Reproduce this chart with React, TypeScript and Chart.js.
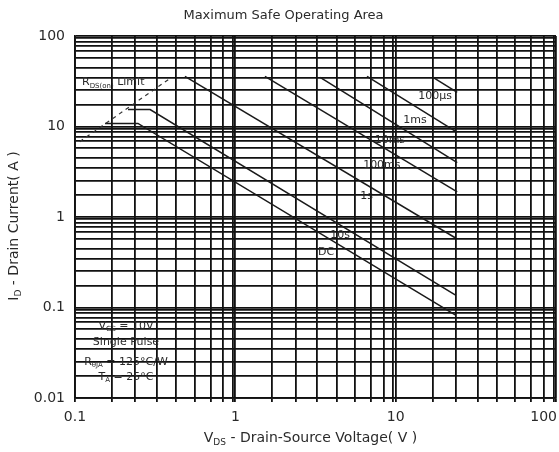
import React, { useEffect, useRef } from 'react';
import { Chart, registerables } from 'chart.js';

Chart.register(...registerables);

const FONT = '"DejaVu Sans", sans-serif';
const TEXT_COLOR = '#2a2a2a';
const GRID_COLOR = '#111111';
const LINE_COLOR = '#1a1a1a';

// ---- Text ----
const chartTitle = 'Maximum Safe Operating Area';

// ---- Axes ----
const xTickValues = [0.1, 1, 10, 100];
const xTickLabels = ['0.1', '1', '10', '100'];
const yTickValues = [0.01, 0.1, 1, 10, 100];
const yTickLabels = ['0.01', '0.1', '1', '10', '100'];
// gridline multipliers inside each decade
const xGridSteps = [1.7, 2.37, 3.24, 4.27, 5.56, 7.0, 8.41, 9.66];
const yGridSteps = [1.74, 2.51, 3.47, 4.47, 5.75, 6.92, 7.76, 8.61, 9.44];

// ---- Series (V_DS in volts, I_D in amps) ----
const rdsLimitV = [0.107, 0.4];
const rdsLimitI = [6.8, 34.9];
const pulse100usV = [17.1, 24.2];
const pulse100usI = [34.9, 23.8];
const pulse1msV = [6.63, 24.2];
const pulse1msI = [35.8, 8.6];
const pulse10msV = [3.38, 24.2];
const pulse10msI = [34.9, 4.0];
const pulse100msV = [1.53, 24.2];
const pulse100msI = [35.8, 1.9];
const pulse1sV = [0.485, 23.5];
const pulse1sI = [35.8, 0.59];
const pulse10sV = [0.214, 0.294, 23.5];
const pulse10sI = [15.4, 15.4, 0.138];
const dcV = [0.154, 0.247, 23.5];
const dcI = [10.8, 10.8, 0.083];

// ---- Curve labels ----
const curveNames = ['100µs', '1ms', '10ms', '100ms', '1s', '10s', 'DC'];
const curveLabelV = [17.6, 13.2, 9.2, 8.2, 6.6, 4.5, 3.68];
const curveLabelI = [21.5, 11.7, 7.0, 3.7, 1.68, 0.637, 0.413];

type Part = { t: string; sub?: boolean };

const rdsLabel: Part[] = [{ t: 'R' }, { t: 'DS(on)', sub: true }, { t: ' Limit' }];
const rdsLabelV = 0.1106;
const rdsLabelI = 30.7;

const conditionLines: Part[][] = [
  [{ t: 'V' }, { t: 'GS', sub: true }, { t: ' = 10V' }],
  [{ t: 'Single Pulse' }],
  [{ t: 'R' }, { t: 'θJA', sub: true }, { t: ' = 125°C/W' }],
  [{ t: 'T' }, { t: 'A', sub: true }, { t: ' = 25°C' }],
];
const conditionV = 0.208;
const conditionI = [0.0625, 0.0416, 0.025, 0.017];

const xTitle: Part[] = [{ t: 'V' }, { t: 'DS', sub: true }, { t: ' - Drain-Source Voltage( V )' }];
const yTitle: Part[] = [{ t: 'I' }, { t: 'D', sub: true }, { t: ' - Drain Current( A )' }];

function pts(v: number[], i: number[]) {
  return v.map((x, k) => ({ x, y: i[k] }));
}

function gridValues(decades: number[], steps: number[]) {
  const out: number[] = [];
  for (let k = 0; k < decades.length - 1; k++) {
    out.push(decades[k]);
    steps.forEach((m) => out.push(decades[k] * m));
  }
  out.push(decades[decades.length - 1]);
  return out;
}

function labelFor(values: number[], labels: string[], v: number) {
  const i = values.findIndex((t) => Math.abs(t - v) / t < 1e-6);
  return i >= 0 ? labels[i] : '';
}

function drawRich(
  ctx: CanvasRenderingContext2D,
  parts: Part[],
  x: number,
  y: number,
  size: number,
  align: 'left' | 'center',
  color: string
) {
  const subSize = Math.max(6, Math.round(size * 0.62));
  const widths = parts.map((p) => {
    ctx.font = `${p.sub ? subSize : size}px ${FONT}`;
    return ctx.measureText(p.t).width;
  });
  const total = widths.reduce((a, b) => a + b, 0);
  let cx = align === 'center' ? x - total / 2 : x;
  ctx.textAlign = 'left';
  ctx.textBaseline = 'middle';
  ctx.fillStyle = color;
  parts.forEach((p, k) => {
    ctx.font = `${p.sub ? subSize : size}px ${FONT}`;
    ctx.fillText(p.t, cx, y + (p.sub ? size * 0.3 : 0));
    cx += widths[k];
  });
  return total;
}

const textPlugin = {
  id: 'soaText',
  afterDraw(chart: any) {
    const ctx: CanvasRenderingContext2D = chart.ctx;
    const xs = chart.scales.x;
    const ys = chart.scales.y;
    const area = chart.chartArea;
    ctx.save();
    // title
    drawRich(ctx, [{ t: chartTitle }], chart.width / 2 + 4, 16, 13, 'center', TEXT_COLOR);
    // x tick labels (kept inside the canvas at the right edge)
    ctx.font = `14px ${FONT}`;
    xTickValues.forEach((v, k) => {
      const w = ctx.measureText(xTickLabels[k]).width;
      let cx = xs.getPixelForValue(v);
      cx = Math.min(cx, chart.width - 2 - w / 2);
      drawRich(ctx, [{ t: xTickLabels[k] }], cx, area.bottom + 19, 14, 'center', TEXT_COLOR);
    });
    // axis titles
    drawRich(ctx, xTitle, (area.left + area.right) / 2 - 5, 438, 14, 'center', TEXT_COLOR);
    ctx.save();
    ctx.translate(14, (area.top + area.bottom) / 2 + 9);
    ctx.rotate(-Math.PI / 2);
    drawRich(ctx, yTitle, 0, 0, 14, 'center', TEXT_COLOR);
    ctx.restore();
    // curve labels
    curveNames.forEach((n, k) => {
      drawRich(ctx, [{ t: n }], xs.getPixelForValue(curveLabelV[k]), ys.getPixelForValue(curveLabelI[k]), 11, 'center', TEXT_COLOR);
    });
    // Rds label
    drawRich(ctx, rdsLabel, xs.getPixelForValue(rdsLabelV), ys.getPixelForValue(rdsLabelI), 11, 'left', TEXT_COLOR);
    // conditions
    conditionLines.forEach((line, k) => {
      drawRich(ctx, line, xs.getPixelForValue(conditionV), ys.getPixelForValue(conditionI[k]), 11, 'center', TEXT_COLOR);
    });
    ctx.restore();
  },
};

export default function App() {
  const ref = useRef<HTMLCanvasElement | null>(null);

  useEffect(() => {
    document.body.style.margin = '0';
    if (!ref.current) return;
    const line = (v: number[], i: number[], extra: any = {}) => ({
      data: pts(v, i),
      showLine: true,
      borderColor: LINE_COLOR,
      borderWidth: 1.5,
      pointRadius: 0,
      fill: false,
      tension: 0,
      ...extra,
    });
    const chart = new Chart(ref.current, {
      type: 'scatter',
      data: {
        datasets: [
          line(rdsLimitV, rdsLimitI, { borderDash: [4, 4], borderColor: '#333', borderWidth: 1.2 }),
          line(pulse100usV, pulse100usI),
          line(pulse1msV, pulse1msI),
          line(pulse10msV, pulse10msI),
          line(pulse100msV, pulse100msI),
          line(pulse1sV, pulse1sI),
          line(pulse10sV, pulse10sI),
          line(dcV, dcI),
        ],
      },
      options: {
        animation: false,
        responsive: true,
        maintainAspectRatio: false,
        layout: { padding: { top: 36, right: 3, left: 0, bottom: 0 } },
        plugins: { legend: { display: false }, tooltip: { enabled: false }, title: { display: false } },
        scales: {
          x: {
            type: 'logarithmic',
            min: 0.1,
            max: 100,
            afterBuildTicks: (s: any) => {
              s.ticks = gridValues(xTickValues, xGridSteps).map((v) => ({ value: v }));
            },
            afterFit: (s: any) => {
              s.height = 54;
              s.paddingLeft = 0;
              s.paddingRight = 0;
            },
            ticks: {
              display: false,
              autoSkip: false,
              maxRotation: 0,
              callback: (v: any) => labelFor(xTickValues, xTickLabels, Number(v)),
            },
            grid: { color: GRID_COLOR, lineWidth: 1.8, tickLength: 4, drawTicks: true, tickColor: GRID_COLOR },
            border: { display: true, color: GRID_COLOR, width: 1.8 },
          },
          y: {
            type: 'logarithmic',
            min: 0.01,
            max: 100,
            afterBuildTicks: (s: any) => {
              s.ticks = gridValues(yTickValues, yGridSteps).map((v) => ({ value: v }));
            },
            afterFit: (s: any) => {
              s.width = 75;
            },
            ticks: {
              autoSkip: false,
              padding: 10,
              color: TEXT_COLOR,
              font: { family: FONT, size: 14 },
              callback: (v: any) => labelFor(yTickValues, yTickLabels, Number(v)),
            },
            grid: { color: GRID_COLOR, lineWidth: 1.8, drawTicks: false },
            border: { display: true, color: GRID_COLOR, width: 1.8 },
          },
        },
      },
      plugins: [textPlugin],
    } as any);
    return () => chart.destroy();
  }, []);

  return (
    <div style={{ width: 559, height: 452, position: 'relative', background: '#fff' }}>
      <canvas ref={ref} />
    </div>
  );
}
